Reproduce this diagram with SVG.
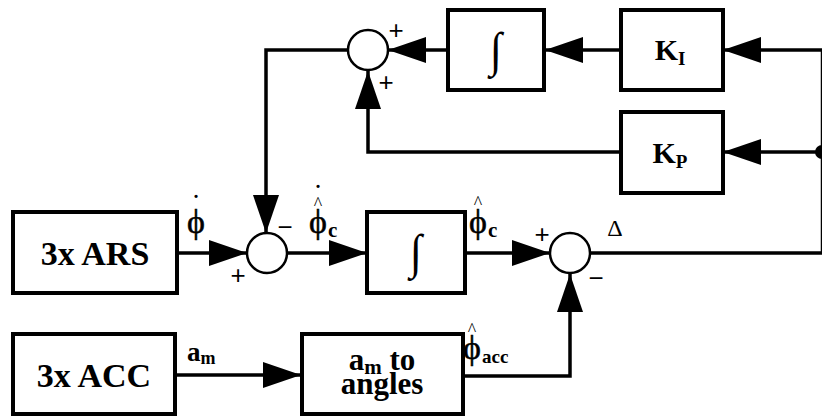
<svg xmlns="http://www.w3.org/2000/svg" width="822" height="418" viewBox="0 0 822 418">
<style>
.box{fill:#fff;stroke:#000;stroke-width:4}
.sum{fill:#fff;stroke:#000;stroke-width:2.5}
.ln{fill:none;stroke:#000;stroke-width:3.5;stroke-linejoin:miter}
.lbl{font-family:"Liberation Serif","Times New Roman",serif;font-weight:bold;fill:#000;text-anchor:middle}
.sub{font-family:"Liberation Serif","Times New Roman",serif;font-weight:bold;fill:#000;text-anchor:start}
.sym{font-family:"Liberation Serif","Times New Roman",serif;fill:#000;text-anchor:middle}
.phi{font-family:"Liberation Serif","Times New Roman",serif;fill:#000;text-anchor:middle;font-size:34px;stroke:#000;stroke-width:0.5}
.sgn{font-family:"Liberation Sans",Arial,sans-serif;fill:#000;font-size:26px;text-anchor:middle}
</style>
<defs>
<marker id="ah" viewBox="0 0 38 26" refX="38" refY="13" markerWidth="38" markerHeight="26" markerUnits="userSpaceOnUse" orient="auto">
<path d="M0,0 L38,13 L0,26 z" fill="#000"/>
</marker>
</defs>
<g id="connectors">
<line class="ln" x1="177" y1="253" x2="247" y2="253" marker-end="url(#ah)"/>
<line class="ln" x1="287" y1="253" x2="367" y2="253" marker-end="url(#ah)"/>
<line class="ln" x1="465" y1="253" x2="550" y2="253" marker-end="url(#ah)"/>
<polyline class="ln" points="590,253 822.5,253 822.5,50"/>
<line class="ln" x1="822" y1="50" x2="723" y2="50" marker-end="url(#ah)"/>
<line class="ln" x1="822" y1="152" x2="723" y2="152" marker-end="url(#ah)"/>
<circle cx="822" cy="152" r="7" fill="#000"/>
<line class="ln" x1="621" y1="50" x2="545" y2="50" marker-end="url(#ah)"/>
<line class="ln" x1="448" y1="50" x2="388" y2="50" marker-end="url(#ah)"/>
<polyline class="ln" points="621,152 368,152 368,71" marker-end="url(#ah)"/>
<polyline class="ln" points="347,50 266,50 266,233" marker-end="url(#ah)"/>
<line class="ln" x1="175" y1="375" x2="301" y2="375" marker-end="url(#ah)"/>
<polyline class="ln" points="463,376 570,376 570,274" marker-end="url(#ah)"/>
</g>
<g id="ars">
<rect class="box" x="13" y="212" width="164" height="81"/>
<text class="lbl" x="95" y="265" font-size="34">3x ARS</text>
</g>
<g id="acc">
<rect class="box" x="13" y="334" width="162" height="80"/>
<text class="lbl" x="94" y="387" font-size="34">3x ACC</text>
</g>
<g id="am2angles">
<rect class="box" x="302" y="334" width="161" height="80"/>
<text class="lbl" x="382" y="370" font-size="31">a<tspan font-size="21" dy="4">m</tspan><tspan dy="-4"> to</tspan></text>
<text class="lbl" x="382" y="394" font-size="31">angles</text>
</g>
<g id="sum1">
<circle class="sum" cx="267" cy="253" r="20"/>
</g>
<g id="integrator1">
<rect class="box" x="367" y="212" width="98" height="81"/>
<text class="sym" x="416" y="267" font-size="44" transform="translate(416 252) scale(1 1.1) translate(-416 -252)">∫</text>
</g>
<g id="sum2">
<circle class="sum" cx="570" cy="253" r="20"/>
</g>
<g id="sum3">
<circle class="sum" cx="368" cy="50" r="20"/>
</g>
<g id="integrator2">
<rect class="box" x="448" y="10" width="96" height="80"/>
<text class="sym" x="496" y="65" font-size="44" transform="translate(496 50) scale(1 1.1) translate(-496 -50)">∫</text>
</g>
<g id="ki">
<rect class="box" x="621" y="10" width="102" height="80"/>
<text class="lbl" x="670" y="60" font-size="30">K<tspan font-size="19" dy="5">I</tspan></text>
</g>
<g id="kp">
<rect class="box" x="621" y="112" width="102" height="81"/>
<text class="lbl" x="670" y="163" font-size="30">K<tspan font-size="19" dy="5">P</tspan></text>
</g>
<g id="labels">
<text class="phi" x="196" y="233">ϕ</text>
<text class="sym" x="196" y="215" font-size="30">˙</text>
<text class="sgn" x="238" y="284">+</text>
<text class="sgn" x="285" y="236">−</text>
<text class="phi" x="318" y="233">ϕ</text>
<text class="sym" x="318" y="210" font-size="18">^</text>
<text class="sym" x="318" y="205" font-size="30">˙</text>
<text class="sub" x="328" y="237" font-size="21">c</text>
<text class="phi" x="478" y="233">ϕ</text>
<text class="sym" x="478" y="209" font-size="18">^</text>
<text class="sub" x="488" y="237" font-size="21">c</text>
<text class="sgn" x="542" y="243">+</text>
<text class="sym" x="615" y="236" font-size="24">Δ</text>
<text class="sgn" x="596" y="287">−</text>
<text class="sgn" x="396" y="39">+</text>
<text class="sgn" x="386" y="91">+</text>
<text class="sub" x="187" y="361" font-size="27">a<tspan font-size="18" dy="3">m</tspan></text>
<text class="phi" x="472" y="359">ϕ</text>
<text class="sym" x="472" y="336" font-size="18">^</text>
<text class="sub" x="482" y="363" font-size="19">acc</text>
</g>
</svg>
